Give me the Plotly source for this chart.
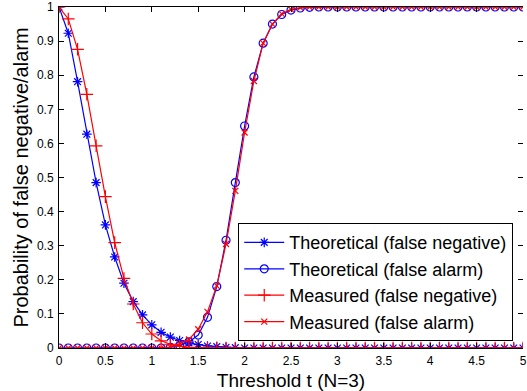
import plotly.graph_objects as go

# Detection threshold grid (N=3)
thresholds = [round(0.1 * i, 1) for i in range(51)]

# Theoretical probability of a false negative
theo_false_negative = [
    1.000, 0.923, 0.781, 0.627, 0.485, 0.361, 0.267, 0.190, 0.136, 0.097,
    0.068, 0.046, 0.032, 0.022, 0.015, 0.010, 0.006, 0.004, 0.002, 0.001,
] + [0.0] * 31

# Theoretical probability of a false alarm
theo_false_alarm = [0.0] * 12 + [
    0.002, 0.007, 0.018, 0.038, 0.090, 0.180, 0.316, 0.485, 0.651, 0.795,
    0.894, 0.950, 0.978, 0.991, 0.997, 0.999,
] + [1.0] * 23

# Measured probability of a false negative
meas_false_negative = [
    1.000, 0.965, 0.876, 0.744, 0.593, 0.444, 0.309, 0.204, 0.129, 0.074,
    0.041, 0.021, 0.011, 0.005, 0.002, 0.001,
] + [0.0] * 35

# Measured probability of a false alarm
meas_false_alarm = [0.0] * 12 + [
    0.003, 0.012, 0.025, 0.055, 0.106, 0.182, 0.305, 0.461, 0.632, 0.783,
    0.894, 0.950, 0.980, 0.993, 0.998,
] + [1.0] * 24

x_tick_values = [0, 0.5, 1, 1.5, 2, 2.5, 3, 3.5, 4, 4.5, 5]
x_tick_labels = ["0", "0.5", "1", "1.5", "2", "2.5", "3", "3.5", "4", "4.5", "5"]

BLUE = "#0000ff"
RED = "#ff0000"
FONT = "Liberation Sans, Arial, sans-serif"

series = [
    ("Theoretical (false negative)", theo_false_negative, BLUE, "asterisk-open", 8),
    ("Theoretical (false alarm)", theo_false_alarm, BLUE, "circle-open", 8),
    ("Measured (false negative)", meas_false_negative, RED, "cross-thin-open", 9),
    ("Measured (false alarm)", meas_false_alarm, RED, "x-thin-open", 6),
]

fig = go.Figure()
for name, values, color, symbol, size in series:
    fig.add_trace(go.Scatter(
        x=thresholds, y=values, name=name, mode="lines+markers",
        line=dict(color=color, width=1.2),
        marker=dict(symbol=symbol, size=size, color=color,
                    line=dict(color=color, width=1.2)),
    ))

# Invisible trace on a mirrored axis to carry the right-hand tick marks
fig.add_trace(go.Scatter(x=[None], y=[None], yaxis="y2", showlegend=False,
                         hoverinfo="skip"))

fig.update_layout(
    width=527, height=391,
    margin=dict(l=59, r=0, t=7, b=43),
    paper_bgcolor="white", plot_bgcolor="white",
    font=dict(family=FONT, color="black"),
    showlegend=True,
    legend=dict(
        x=0.979, y=0.02, xanchor="right", yanchor="bottom",
        bgcolor="white", bordercolor="black", borderwidth=1,
        font=dict(size=18, family=FONT), tracegroupgap=0, itemwidth=40,
    ),
    xaxis=dict(
        range=[0, 5], tickvals=x_tick_values, ticktext=x_tick_labels,
        ticks="inside", ticklen=5, tickcolor="black",
        showline=True, linecolor="black", linewidth=1, mirror="ticks",
        showgrid=False, zeroline=False,
        tickfont=dict(size=12), ticklabelstandoff=2,
        ticklabeloverflow="allow",
        title=dict(text="Threshold t (N=3)", font=dict(size=19), standoff=6),
    ),
    yaxis=dict(
        range=[0, 1], dtick=0.1,
        ticks="inside", ticklen=5, tickcolor="black",
        showline=True, linecolor="black", linewidth=1,
        showgrid=False, zeroline=False,
        tickfont=dict(size=12), ticklabelstandoff=2,
        title=dict(text="Probability of false negative/alarm", font=dict(size=20),
                   standoff=2),
    ),
    yaxis2=dict(
        range=[0, 1], dtick=0.1, overlaying="y", side="right",
        ticks="inside", ticklen=5, tickcolor="black",
        showline=False, showgrid=False, zeroline=False, showticklabels=False,
    ),
)

fig.write_html("out.html")
